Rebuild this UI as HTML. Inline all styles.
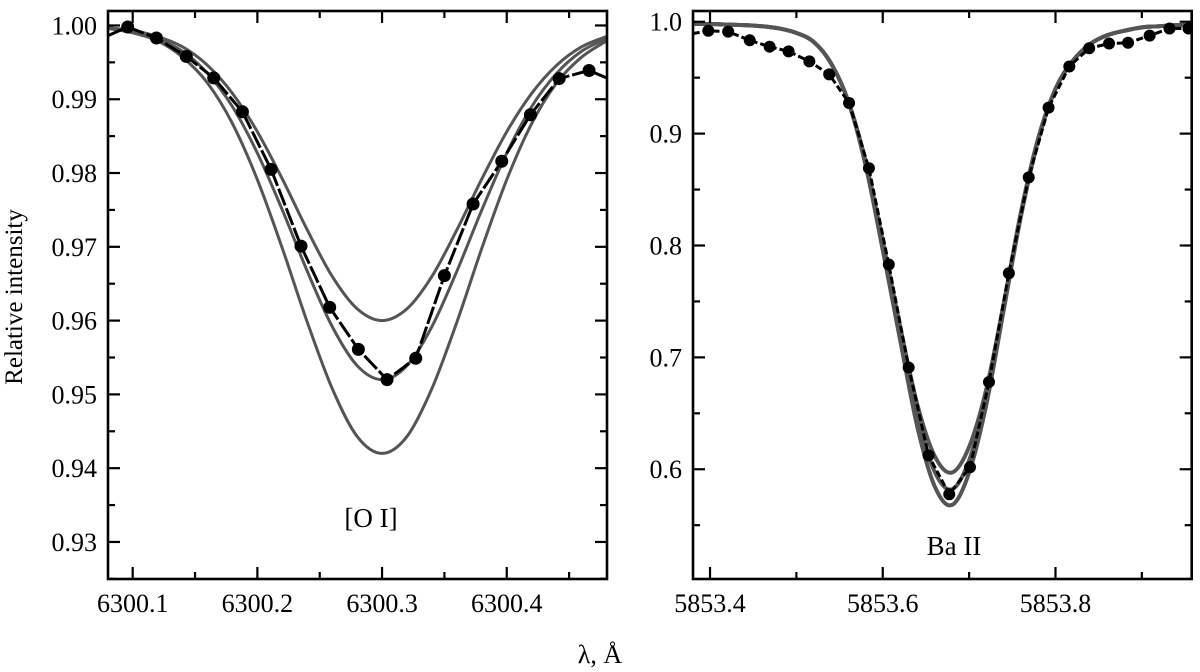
<!DOCTYPE html>
<html><head><meta charset="utf-8"><style>
html,body{margin:0;padding:0;background:#fff;}
svg{display:block;}
text{font-family:"Liberation Serif","Times New Roman",serif;}
</style></head><body>
<svg id="chart" width="1200" height="672" viewBox="0 0 1200 672" xmlns="http://www.w3.org/2000/svg">
<text x="22" y="297" font-family="Liberation Serif, serif" font-size="25" text-anchor="middle" transform="rotate(-90 22 297)">Relative intensity</text>
<text x="600" y="663" font-family="Liberation Serif, serif" font-size="26" text-anchor="middle">λ, Å</text>
</svg>
<script>
// ---- Left panel data ([O I]) ----
const oiObsX = [6300.080,6300.096,6300.119,6300.143,6300.165,6300.188,6300.211,6300.235,6300.258,6300.281,6300.304,6300.327,6300.350,6300.373,6300.396,6300.419,6300.442,6300.466,6300.480];
const oiObsY = [0.9986,0.9998,0.9983,0.9958,0.9929,0.9883,0.9805,0.9701,0.9618,0.9561,0.9520,0.9549,0.9661,0.9758,0.9816,0.9879,0.9928,0.9939,0.9929];
const oiModelX = [6300.08,6300.10,6300.12,6300.14,6300.16,6300.18,6300.20,6300.22,6300.24,6300.26,6300.28,6300.30,6300.32,6300.34,6300.36,6300.38,6300.40,6300.42,6300.44,6300.46,6300.48];
const oiShallow = [0.9997,0.9993,0.9985,0.9971,0.9946,0.9908,0.9856,0.9792,0.9723,0.9660,0.9616,0.9600,0.9616,0.9660,0.9723,0.9792,0.9856,0.9908,0.9946,0.9971,0.9985];
const oiMid = [0.9997,0.9992,0.9982,0.9965,0.9935,0.9890,0.9827,0.9750,0.9667,0.9592,0.9539,0.9520,0.9539,0.9592,0.9667,0.9750,0.9827,0.9890,0.9935,0.9965,0.9982];
const oiDeep = [0.9996,0.9990,0.9979,0.9957,0.9922,0.9867,0.9791,0.9698,0.9598,0.9508,0.9443,0.9420,0.9443,0.9508,0.9598,0.9698,0.9791,0.9867,0.9922,0.9957,0.9979];
const oiXTicks = [6300.1,6300.2,6300.3,6300.4];
const oiXTickLabels = ["6300.1","6300.2","6300.3","6300.4"];
const oiYTicks = [0.93,0.94,0.95,0.96,0.97,0.98,0.99,1.00];
const oiYTickLabels = ["0.93","0.94","0.95","0.96","0.97","0.98","0.99","1.00"];

// ---- Right panel data (Ba II) ----
const baObsX = [5853.380,5853.398,5853.421,5853.446,5853.469,5853.491,5853.515,5853.538,5853.561,5853.584,5853.607,5853.630,5853.653,5853.677,5853.701,5853.723,5853.746,5853.769,5853.792,5853.816,5853.839,5853.862,5853.884,5853.909,5853.932,5853.954,5853.958];
const baObsY = [0.9894,0.9919,0.9912,0.9834,0.9777,0.9735,0.9646,0.9529,0.9274,0.869,0.783,0.691,0.6124,0.5777,0.6018,0.678,0.7752,0.8609,0.9232,0.960,0.9763,0.9805,0.9812,0.9876,0.994,0.994,0.994];
const baModelX = [5853.38,5853.40,5853.42,5853.44,5853.46,5853.48,5853.50,5853.52,5853.54,5853.56,5853.58,5853.60,5853.62,5853.64,5853.66,5853.68,5853.70,5853.72,5853.74,5853.76,5853.78,5853.80,5853.82,5853.84,5853.86,5853.88,5853.90,5853.92,5853.94,5853.96];
const baShallow = [0.998,0.998,0.9975,0.997,0.996,0.994,0.990,0.982,0.963,0.929,0.876,0.804,0.728,0.658,0.612,0.597,0.620,0.672,0.748,0.830,0.896,0.940,0.965,0.980,0.988,0.992,0.995,0.996,0.997,0.997];
const baMid = [0.998,0.998,0.9975,0.997,0.996,0.994,0.990,0.982,0.963,0.929,0.874,0.800,0.722,0.648,0.598,0.582,0.608,0.665,0.745,0.828,0.895,0.940,0.965,0.980,0.988,0.992,0.995,0.996,0.997,0.997];
const baDeep = [0.998,0.998,0.9975,0.997,0.996,0.994,0.990,0.982,0.963,0.929,0.872,0.796,0.716,0.638,0.585,0.568,0.597,0.658,0.742,0.826,0.894,0.940,0.965,0.980,0.988,0.992,0.995,0.996,0.997,0.997];
const baXTicks = [5853.4,5853.6,5853.8];
const baXTickLabels = ["5853.4","5853.6","5853.8"];
const baYTicks = [0.6,0.7,0.8,0.9,1.0];
const baYTickLabels = ["0.6","0.7","0.8","0.9","1.0"];

const NS = "http://www.w3.org/2000/svg";
const svg = document.getElementById('chart');
function mk(tag, attrs, parent){ const e=document.createElementNS(NS,tag); for(const k in attrs) e.setAttribute(k,attrs[k]); (parent||svg).appendChild(e); return e; }
function smoothPath(pts){
  let d = "M"+pts[0][0].toFixed(2)+","+pts[0][1].toFixed(2);
  for(let i=0;i<pts.length-1;i++){
    const p0=pts[Math.max(0,i-1)], p1=pts[i], p2=pts[i+1], p3=pts[Math.min(pts.length-1,i+2)];
    const c1x=p1[0]+(p2[0]-p0[0])/6, c1y=p1[1]+(p2[1]-p0[1])/6;
    const c2x=p2[0]-(p3[0]-p1[0])/6, c2y=p2[1]-(p3[1]-p1[1])/6;
    d+=" C"+c1x.toFixed(2)+","+c1y.toFixed(2)+" "+c2x.toFixed(2)+","+c2y.toFixed(2)+" "+p2[0].toFixed(2)+","+p2[1].toFixed(2);
  }
  return d;
}
const FF = "Liberation Serif, serif";

function panel(cfg){
  const g = mk('g',{});
  
  
  const sx = v => cfg.x0 + (v-cfg.xmin)/(cfg.xmax-cfg.xmin)*(cfg.x1-cfg.x0);
  const sy = v => cfg.y1 - (v-cfg.ymin)/(cfg.ymax-cfg.ymin)*(cfg.y1-cfg.y0);
  const clipId = cfg.name+'-clip';
  const cp = mk('clipPath',{id:clipId},g);
  mk('rect',{x:cfg.x0,y:cfg.y0,width:cfg.x1-cfg.x0,height:cfg.y1-cfg.y0},cp);
  const plot = mk('g',{'clip-path':'url(#'+clipId+')'},g);
  cfg.models.forEach((m,i)=>{
    const p = mk('path',{d:smoothPath(cfg.modelX.map((x,j)=>[sx(x),sy(m[j])])),fill:'none',stroke:'#555',"stroke-width":cfg.modelW},plot);
    
    
  });
  const ol = mk('polyline',{points:cfg.obsX.map((x,j)=>sx(x).toFixed(2)+","+sy(cfg.obsY[j]).toFixed(2)).join(' '),fill:'none',stroke:'#000',"stroke-width":cfg.obsW,"stroke-dasharray":cfg.dash},plot);
  
  
  cfg.obsX.forEach((x,j)=>{
    if(j===0 || j===cfg.obsX.length-1) return;
    const c = mk('circle',{cx:sx(x),cy:sy(cfg.obsY[j]),r:cfg.r,fill:'#000'},plot);
    
    
  });
  const fr = mk('rect',{x:cfg.x0,y:cfg.y0,width:cfg.x1-cfg.x0,height:cfg.y1-cfg.y0,fill:'none',stroke:'#000',"stroke-width":2.6},g);
  
  
  const tk = {stroke:'#000',"stroke-width":2.2};
  for(let v=cfg.xmin; v<=cfg.xmax+1e-9; v+=cfg.xMinorStep){
    const vv = Math.round(v/cfg.xMinorStep)*cfg.xMinorStep;
    if(vv<cfg.xmin-1e-9||vv>cfg.xmax+1e-9) continue;
    const major = cfg.xTicks.some(t=>Math.abs(t-vv)<1e-6);
    const L = major?12:7, X=sx(vv);
    mk('line',Object.assign({x1:X,x2:X,y1:cfg.y1,y2:cfg.y1-L},tk),g);
    mk('line',Object.assign({x1:X,x2:X,y1:cfg.y0,y2:cfg.y0+L},tk),g);
  }
  for(let v=cfg.ymin; v<=cfg.ymax+1e-9; v+=cfg.yMinorStep){
    const vv = Math.round(v/cfg.yMinorStep)*cfg.yMinorStep;
    if(vv<cfg.ymin-1e-9||vv>cfg.ymax+1e-9) continue;
    const major = cfg.yTicks.some(t=>Math.abs(t-vv)<1e-6);
    const L = major?12:7, Y=sy(vv);
    mk('line',Object.assign({x1:cfg.x0,x2:cfg.x0+L,y1:Y,y2:Y},tk),g);
    mk('line',Object.assign({x1:cfg.x1,x2:cfg.x1-L,y1:Y,y2:Y},tk),g);
  }
  cfg.xTicks.forEach((t,i)=>{
    const e = mk('text',{x:sx(t),y:cfg.y1+33,"font-family":FF,"font-size":26,"text-anchor":"middle"},g);
    e.textContent = cfg.xLabels[i];
    
    
  });
  cfg.yTicks.forEach((t,i)=>{
    const e = mk('text',{x:cfg.x0-11,y:sy(t)+9,"font-family":FF,"font-size":26,"text-anchor":"end"},g);
    e.textContent = cfg.yLabels[i];
    
    
  });
  const lb = mk('text',{x:cfg.labelX,y:cfg.labelY,"font-family":FF,"font-size":27,"text-anchor":"middle"},g);
  lb.textContent = cfg.label;
  
  
}

panel({name:'oi-panel',x0:108,x1:607,y0:11,y1:579,xmin:6300.0802,xmax:6300.4804,ymin:0.92498,ymax:1.00196,
  xTicks:oiXTicks,xLabels:oiXTickLabels,yTicks:oiYTicks,yLabels:oiYTickLabels,xMinorStep:0.05,yMinorStep:0.005,
  modelX:oiModelX,models:[oiShallow,oiMid,oiDeep],modelW:3,obsX:oiObsX,obsY:oiObsY,obsW:3,dash:'18,3',r:6.5,
  label:'[O I]',labelX:371,labelY:527});
panel({name:'ba-panel',x0:693,x1:1191.7,y0:11,y1:579,xmin:5853.3803,xmax:5853.9577,ymin:0.5019,ymax:1.0096,
  xTicks:baXTicks,xLabels:baXTickLabels,yTicks:baYTicks,yLabels:baYTickLabels,xMinorStep:0.1,yMinorStep:0.05,
  modelX:baModelX,models:[baShallow,baMid,baDeep],modelW:4,obsX:baObsX,obsY:baObsY,obsW:3,dash:'7,3',r:6,
  label:'Ba II',labelX:954,labelY:555});
</script>
</body></html>
